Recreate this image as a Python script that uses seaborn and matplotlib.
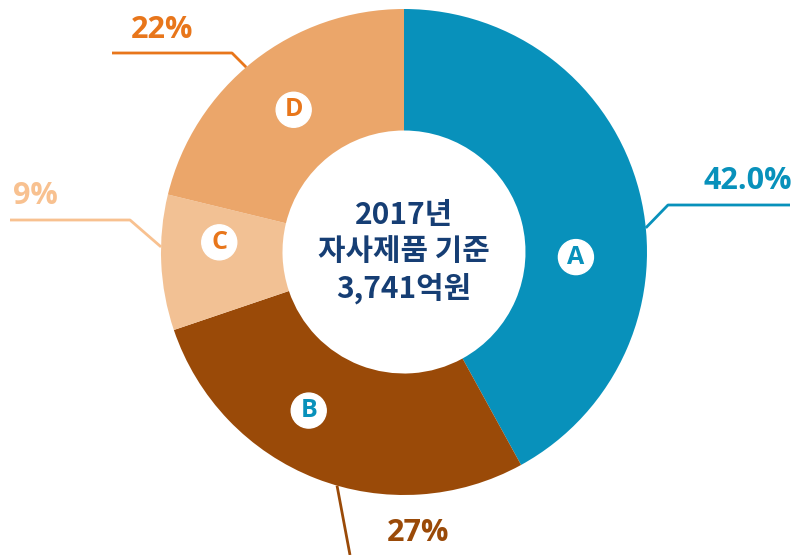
import numpy as np
import matplotlib
matplotlib.use("Agg")
import matplotlib.pyplot as plt
import seaborn as sns

# data
labels = ["A", "B", "C", "D"]
shares = [42.0, 27.8, 9.0, 21.2]
pct_text = ["42.0%", "27%", "9%", "22%"]
center_text = "2017년\n자사제품 기준\n3,741억원"

# styles
colors = ["#0891bb", "#9a4a08", "#f2c194", "#eba66a"]
letter_colors = ["#0891bb", "#0891bb", "#e8761b", "#e8761b"]
pct_colors = ["#0891bb", "#9a4a08", "#f8c190", "#e8761b"]
line_colors = ["#0891bb", "#9a4a08", "#f8c190", "#e8761b"]

sns.set_theme(style="white")
plt.rcParams['font.family'] = ['Open Sans', 'Noto Sans CJK KR', 'DejaVu Sans']

W, H = 796, 555
fig = plt.figure(figsize=(W / 100, H / 100), dpi=100)
ax = fig.add_axes([0, 0, 1, 1])

cx, cy = 404, H - 252
R = 243
ax.pie(shares, colors=colors, startangle=90, counterclock=False,
       radius=R, center=(cx, cy), frame=True,
       wedgeprops=dict(width=R * 0.5, edgecolor="none"))
ax.set_xlim(0, W)
ax.set_ylim(0, H)
ax.set_aspect("equal")
ax.axis("off")

ax.text(cx, cy, center_text, ha="center", va="center", fontsize=21.5,
        fontweight="bold", color="#163e74", linespacing=1.25,
        family=['Noto Sans CJK KR', 'DejaVu Sans'])

# letter badges (angle in degrees, radius in px)
badge_pos = [(-1.7, 172), (239, 185), (177, 185), (127.8, 180)]
for lab, (ang, r), lc in zip(labels, badge_pos, letter_colors):
    x = cx + r * np.cos(np.radians(ang))
    y = cy + r * np.sin(np.radians(ang))
    ax.add_patch(plt.Circle((x, y), 17.5, color="white", zorder=3))
    ax.text(x, y, lab, ha="center", va="center", fontsize=18,
            fontweight="bold", color=lc, zorder=4)

# leader lines: anchor angle on rim, elbow, end, text position
leaders = [
    (5.7, (668, 205), (790, 205), (748, 181)),
    (254, (350, 555), None, (418, 533)),
    (178.8, (130, 220), (10, 220), (35, 196)),
    (130.5, (232, 53), (112, 53), (162, 30)),
]
for (ang, elbow, end, tpos), lc, pc, txt in zip(leaders, line_colors, pct_colors, pct_text):
    x0 = cx + R * np.cos(np.radians(ang))
    y0 = cy + R * np.sin(np.radians(ang))
    xs = [x0, elbow[0]]
    ys = [y0, H - elbow[1]]
    if end is not None:
        xs.append(end[0])
        ys.append(H - end[1])
    ax.plot(xs, ys, color=lc, lw=2, solid_capstyle="butt")
    ax.text(tpos[0], H - tpos[1], txt, ha="center", va="center", fontsize=22,
            fontweight="bold", color=pc)

fig.savefig("out.png", dpi=100)
